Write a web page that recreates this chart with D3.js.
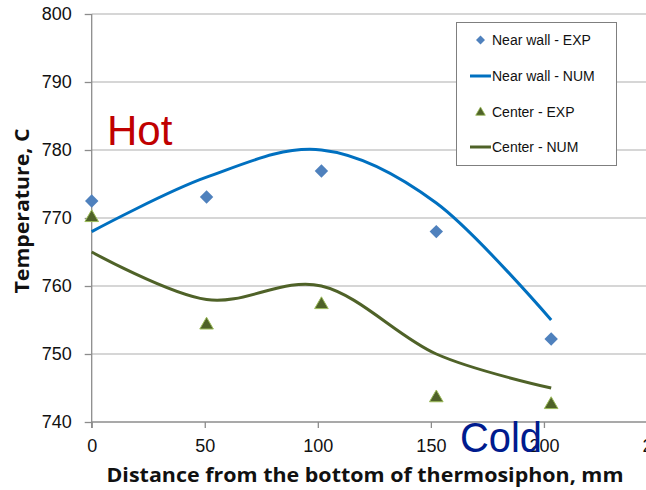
<!DOCTYPE html>
<html>
<head>
<meta charset="utf-8">
<script src="https://cdn.jsdelivr.net/npm/d3@7"></script>
<style>
  html, body { margin: 0; padding: 0; background: #fff; }
  svg { display: block; font-family: "Liberation Sans", Arial, sans-serif; }
</style>
</head>
<body>
<svg id="chart" width="646" height="490"></svg>
<script>
// Distance along the thermosiphon (mm) where temperatures were taken
const distances = [0, 50.8, 101.6, 152.4, 203.2];
// Measured temperatures (EXP) and simulated profiles (NUM), in C
const nearWallExp = [772.5, 773.1, 776.9, 768.0, 752.2];
const nearWallNum = [768.0, 776.0, 780.0, 772.2, 755.0];
const centerExp   = [770.2, 754.4, 757.4, 743.7, 742.7];
const centerNum   = [765.0, 758.0, 760.0, 750.0, 745.0];

const xTicks = [0, 50, 100, 150, 200, 250];
const yTicks = [740, 750, 760, 770, 780, 790, 800];

const legendItems = [
  { label: "Near wall - EXP", kind: "diamond" },
  { label: "Near wall - NUM", kind: "blueLine" },
  { label: "Center - EXP", kind: "triangle" },
  { label: "Center - NUM", kind: "greenLine" }
];

const BLUE_MARK = "#4f81bd", BLUE_LINE = "#0070c0";
const GREEN = "#4f6228", GREEN_EDGE = "#9bbb59";
const GRID = "#c8c8c8", AXIS = "#8c8c8c";
const TITLE_FONT = "'Open Sans', 'Liberation Sans', Arial, sans-serif";

const svg = d3.select("#chart");
const x = d3.scaleLinear().domain([0, 250]).range([91.7, 657]);
const y = d3.scaleLinear().domain([740, 800]).range([422, 14]);

// Horizontal gridlines
svg.append("g").selectAll("line").data(yTicks).join("line")
  .attr("x1", x(0)).attr("x2", 646)
  .attr("y1", d => y(d)).attr("y2", d => y(d))
  .attr("stroke", d => d === 740 ? AXIS : GRID).attr("stroke-width", 1.3);

// Y axis
const yAxis = svg.append("g").attr("transform", `translate(${x(0)},0)`)
  .call(d3.axisLeft(y).tickValues(yTicks).tickSize(7).tickPadding(13).tickFormat(d3.format("d")));
yAxis.select(".domain").attr("stroke", AXIS).attr("stroke-width", 1.3)
  .attr("d", `M0,${y(800)}V${y(740) + 6}`);
yAxis.selectAll(".tick line").attr("stroke", AXIS).attr("stroke-width", 1.3);
yAxis.selectAll(".tick text").attr("font-size", 18).attr("fill", "#111")
  .attr("font-family", "Liberation Sans, Arial, sans-serif");

// X axis
const xAxis = svg.append("g").attr("transform", `translate(0,${y(740)})`)
  .call(d3.axisBottom(x).tickValues(xTicks).tickSize(6).tickPadding(11).tickFormat(d3.format("d")));
xAxis.select(".domain").remove();
xAxis.selectAll(".tick line").attr("stroke", AXIS).attr("stroke-width", 1.3);
xAxis.selectAll(".tick text").attr("font-size", 18).attr("fill", "#111")
  .attr("font-family", "Liberation Sans, Arial, sans-serif");

// Smoothed simulation curves
const line = d3.line().x(d => x(d[0])).y(d => y(d[1])).curve(d3.curveCardinal.tension(0));
svg.append("path").datum(d3.zip(distances, nearWallNum))
  .attr("d", line).attr("fill", "none").attr("stroke", BLUE_LINE).attr("stroke-width", 3);
svg.append("path").datum(d3.zip(distances, centerNum))
  .attr("d", line).attr("fill", "none").attr("stroke", GREEN).attr("stroke-width", 3);

// Measurement markers
const diamond = d3.symbol().type(d3.symbolSquare).size(90);
const triangle = d3.symbol().type(d3.symbolTriangle).size(80);
svg.append("g").selectAll("path").data(d3.zip(distances, nearWallExp)).join("path")
  .attr("d", diamond)
  .attr("transform", d => `translate(${x(d[0])},${y(d[1])}) rotate(45)`)
  .attr("fill", BLUE_MARK);
svg.append("g").selectAll("path").data(d3.zip(distances, centerExp)).join("path")
  .attr("d", triangle)
  .attr("transform", d => `translate(${x(d[0])},${y(d[1]) + 1})`)
  .attr("fill", GREEN).attr("stroke", GREEN_EDGE).attr("stroke-width", 1);

// Legend
const lg = svg.append("g");
lg.append("rect").attr("x", 456.5).attr("y", 22.5).attr("width", 160).attr("height", 143)
  .attr("fill", "#fff").attr("stroke", "#7f7f7f").attr("stroke-width", 1);
const rowY = [40, 76, 111.5, 147];
legendItems.forEach((it, i) => {
  const cy = rowY[i];
  if (it.kind === "diamond") {
    lg.append("path").attr("d", d3.symbol().type(d3.symbolSquare).size(40))
      .attr("transform", `translate(480.5,${cy}) rotate(45)`).attr("fill", BLUE_MARK);
  } else if (it.kind === "triangle") {
    lg.append("path").attr("d", d3.symbol().type(d3.symbolTriangle).size(40))
      .attr("transform", `translate(480.5,${cy + 1})`)
      .attr("fill", GREEN).attr("stroke", GREEN_EDGE).attr("stroke-width", 0.8);
  } else {
    lg.append("line").attr("x1", 470).attr("x2", 491).attr("y1", cy).attr("y2", cy)
      .attr("stroke", it.kind === "blueLine" ? BLUE_LINE : GREEN).attr("stroke-width", 3);
  }
  lg.append("text").attr("x", 492).attr("y", cy + 5).attr("font-size", 14)
    .attr("fill", "#111").text(it.label);
});

// Axis titles
svg.append("text").attr("x", 365).attr("y", 482).attr("text-anchor", "middle")
  .attr("font-family", TITLE_FONT)
  .attr("font-size", 19.5).attr("font-weight", "bold").attr("fill", "#111")
  .attr("textLength", 517).attr("lengthAdjust", "spacingAndGlyphs")
  .text("Distance from the bottom of thermosiphon, mm");
svg.append("text").attr("transform", "translate(29,211) rotate(-90)").attr("text-anchor", "middle")
  .attr("font-family", TITLE_FONT)
  .attr("font-size", 19.5).attr("font-weight", "bold").attr("fill", "#111")
  .attr("textLength", 165).attr("lengthAdjust", "spacingAndGlyphs")
  .text("Temperature, C");

// Annotations
svg.append("text").attr("x", 107).attr("y", 145).attr("font-size", 42)
  .attr("fill", "#c00000").text("Hot");
svg.append("text").attr("x", 460).attr("y", 452).attr("font-size", 43)
  .attr("fill", "#001b8e").attr("textLength", 82).attr("lengthAdjust", "spacingAndGlyphs")
  .text("Cold");
</script>
</body>
</html>
